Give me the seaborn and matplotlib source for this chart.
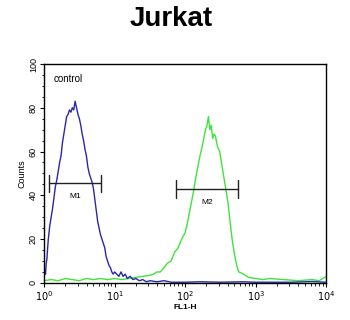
import numpy as np
import pandas as pd
import matplotlib
matplotlib.use("Agg")
import matplotlib.pyplot as plt
import seaborn as sns
from matplotlib.ticker import MultipleLocator, LogLocator, NullFormatter

# ---- data (FL1-H in decades, counts) ----
control_log = [0.00, 0.01, 0.02, 0.03, 0.04, 0.05, 0.06, 0.08, 0.10, 0.12, 0.14, 0.16, 0.18,
               0.20, 0.22, 0.24, 0.26, 0.28, 0.30, 0.32, 0.34, 0.36, 0.38, 0.40, 0.42, 0.44,
               0.46, 0.48, 0.50, 0.52, 0.54, 0.56, 0.58, 0.60, 0.62, 0.64, 0.66, 0.68, 0.70,
               0.72, 0.74, 0.76, 0.78, 0.80, 0.82, 0.84, 0.86, 0.88, 0.90, 0.92, 0.94, 0.96,
               0.98, 1.00, 1.03, 1.06, 1.09, 1.12, 1.15, 1.18, 1.22, 1.26, 1.30, 1.35, 1.40,
               1.45, 1.50, 1.60, 1.70, 1.80, 2.00, 2.20, 2.50, 2.80, 3.00, 3.50, 3.80, 4.00]
control_counts = [2, 6, 4, 9, 11, 16, 20, 26, 30, 34, 39, 44, 47,
                  51, 55, 58, 64, 68, 72, 76, 77, 79, 78, 80, 79, 83,
                  80, 77, 75, 72, 68, 65, 61, 58, 53, 50, 48, 46, 43,
                  38, 33, 28, 25, 22, 20, 18, 16, 12, 10, 8, 7, 5,
                  4, 5, 4, 3, 5, 3, 4, 2, 3, 1.5, 2, 1, 1.5,
                  0.5, 1, 0.5, 1, 0.3, 0.3, 0.5, 0.3, 0.5, 0.3, 0.3, 0.6, 0.3]

sample_log = [0.0, 0.1, 0.2, 0.3, 0.4, 0.5, 0.6, 0.7, 0.8, 0.9, 1.0, 1.1, 1.2, 1.3, 1.4, 1.5,
              1.55, 1.60, 1.65, 1.70, 1.75, 1.80, 1.85, 1.90, 1.95, 2.00, 2.03, 2.06, 2.09,
              2.12, 2.15, 2.18, 2.21, 2.24, 2.27, 2.29, 2.31, 2.33, 2.35, 2.37, 2.39, 2.41,
              2.43, 2.46, 2.49, 2.52, 2.55, 2.58, 2.61, 2.64, 2.67, 2.70, 2.73, 2.76, 2.80,
              2.85, 2.90, 3.0, 3.1, 3.2, 3.4, 3.6, 3.8, 3.9, 4.0]
sample_counts = [1, 1.5, 1, 2, 1.5, 1, 2, 1.5, 2, 1.5, 2, 1.5, 2, 2.5, 3, 3.5,
                 4, 5, 5, 7, 9, 10, 14, 16, 20, 23, 27, 32, 37,
                 42, 48, 53, 58, 62, 67, 70, 72, 76, 70, 72, 66, 68,
                 67, 62, 60, 54, 48, 42, 36, 27, 19, 13, 8, 5, 4.5,
                 3.5, 2.5, 2, 1.5, 2, 1.5, 1, 1.5, 1, 3]

marker_names = ["M1", "M2"]
marker_lo = [1.18, 74]
marker_hi = [6.4, 562]
marker_y = [45.5, 43]

x_ticks = [1, 10, 100, 1000, 10000]
x_tick_labels = ["$10^0$", "$10^1$", "$10^2$", "$10^3$", "$10^4$"]
y_ticks = [0, 20, 40, 60, 80, 100]

sns.set_style("ticks")
plt.rcParams["font.family"] = ["Liberation Sans", "DejaVu Sans"]
plt.rcParams["text.color"] = "black"
plt.rcParams["xtick.color"] = "black"
plt.rcParams["ytick.color"] = "black"
plt.rcParams["axes.labelcolor"] = "black"

fig = plt.figure(figsize=(3.5, 3.2), dpi=100)
ax = fig.add_axes([0.126, 0.116, 0.806, 0.684])

df_c = pd.DataFrame({"FL1-H": 10 ** np.array(control_log), "Counts": control_counts})
df_s = pd.DataFrame({"FL1-H": 10 ** np.array(sample_log), "Counts": sample_counts})
sns.lineplot(data=df_s, x="FL1-H", y="Counts", ax=ax, color="#3ee43e", lw=1.0)
sns.lineplot(data=df_c, x="FL1-H", y="Counts", ax=ax, color="#2828a8", lw=1.0)

ax.set_xscale("log")
ax.set_xlim(1, 10000)
ax.set_ylim(0, 100)

# marker bars
for name, lo, hi, yv in zip(marker_names, marker_lo, marker_hi, marker_y):
    ax.plot([lo, hi], [yv, yv], color="#222222", lw=1.0)
    ax.plot([lo, lo], [yv - 4, yv + 4], color="#222222", lw=1.0)
    ax.plot([hi, hi], [yv - 4, yv + 4], color="#222222", lw=1.0)
    ax.text(np.sqrt(lo * hi), yv - 4.5, name, ha="center", va="top", fontsize=6)

ax.text(1.35, 93, "control", fontsize=7, ha="left", va="center")

ax.set_xticks(x_ticks)
ax.set_xticklabels(x_tick_labels, fontsize=7)
ax.xaxis.set_minor_locator(LogLocator(base=10, subs=np.arange(2, 10)))
ax.xaxis.set_minor_formatter(NullFormatter())
ax.set_yticks(y_ticks)
ax.set_yticklabels([str(v) for v in y_ticks], fontsize=6.5, rotation=90, va="center")
ax.yaxis.set_minor_locator(MultipleLocator(5))
ax.tick_params(axis="both", which="major", length=3, width=0.8, pad=1.5, color="black")
ax.tick_params(axis="both", which="minor", length=1.8, width=0.6, color="black")

ax.set_xlabel("FL1-H", fontsize=6, labelpad=1, fontweight="bold")
ax.set_ylabel("Counts", fontsize=6.5, labelpad=2)
for sp in ax.spines.values():
    sp.set_color("black")
    sp.set_linewidth(1.0)

fig.text(0.49, 0.94, "Jurkat", ha="center", va="center", fontsize=20, fontweight="bold")

fig.savefig("out.png", dpi=100)
